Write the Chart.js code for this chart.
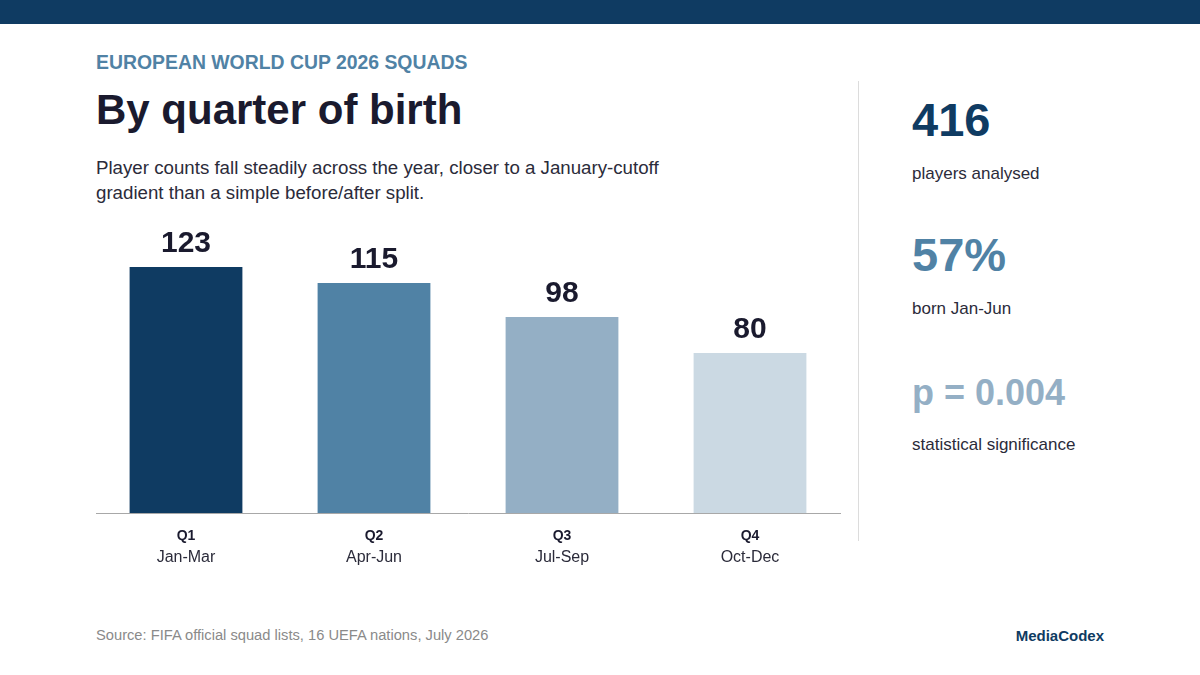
<!DOCTYPE html>
<html>
<head>
<meta charset="utf-8">
<script src="https://cdn.jsdelivr.net/npm/chart.js@4/dist/chart.umd.min.js"></script>
<style>
  html, body { margin: 0; padding: 0; background: #fff; }
  body { width: 1200px; height: 675px; position: relative; overflow: hidden; font-family: 'Liberation Sans', Arial, sans-serif; }
  .topbar { position: absolute; left: 0; top: 0; width: 1200px; height: 24px; background: #0f3b62; }
  .abs { position: absolute; white-space: nowrap; }
  .kicker { left: 96px; top: 51px; font-size: 19.4px; font-weight: bold; color: #5082a5; }
  .title { left: 96px; top: 86px; font-size: 42px; font-weight: bold; color: #1a1a2e; }
  .desc { left: 96px; top: 155px; font-size: 18.7px; line-height: 25px; color: #2b2b3a; white-space: normal; width: 600px; }
  .divider { left: 858px; top: 81px; width: 1px; height: 460px; background: #dcdcdc; }
  .stat { left: 912px; font-weight: bold; }
  .statlbl { left: 912px; font-size: 17px; color: #2b2b3a; }
  .source { left: 96px; top: 627px; font-size: 14.7px; color: #8a8a8a; }
  .brand { right: 96px; top: 627px; font-size: 15px; font-weight: bold; color: #0f3b62; }
  #wrap { position: absolute; left: 92px; top: 213px; width: 752px; height: 378px; }
</style>
</head>
<body>
<div class="topbar"></div>
<div class="abs kicker">EUROPEAN WORLD CUP 2026 SQUADS</div>
<div class="abs title">By quarter of birth</div>
<div class="abs desc">Player counts fall steadily across the year, closer to a January-cutoff gradient than a simple before/after split.</div>

<div id="wrap"><canvas id="chart"></canvas></div>

<div class="abs divider"></div>
<div class="abs stat" style="top:92px;font-size:47px;color:#0f3b62;">416</div>
<div class="abs statlbl" style="top:164px;">players analysed</div>
<div class="abs stat" style="top:227px;font-size:47px;color:#5082a5;">57%</div>
<div class="abs statlbl" style="top:299px;">born Jan-Jun</div>
<div class="abs stat" style="top:372px;font-size:36px;color:#94afc5;">p = 0.004</div>
<div class="abs statlbl" style="top:435px;">statistical significance</div>

<div class="abs source">Source: FIFA official squad lists, 16 UEFA nations, July 2026</div>
<div class="abs brand">MediaCodex</div>

<script>
const quarters = ['Q1', 'Q2', 'Q3', 'Q4'];
const months = ['Jan-Mar', 'Apr-Jun', 'Jul-Sep', 'Oct-Dec'];
const players = [123, 115, 98, 80];
const barColors = ['#0f3b62', '#5082a5', '#94afc5', '#cbd9e3'];

// value on top of each bar + two-line category label under the axis
const barLabels = {
  id: 'barLabels',
  afterDatasetsDraw(chart) {
    const { ctx, scales: { x }, chartArea } = chart;
    const meta = chart.getDatasetMeta(0);
    ctx.save();
    ctx.textAlign = 'center';
    ctx.textBaseline = 'alphabetic';
    meta.data.forEach((bar, i) => {
      ctx.fillStyle = '#1a1a2e';
      ctx.font = 'bold 30px "Liberation Sans", Arial, sans-serif';
      ctx.fillText(String(players[i]), bar.x, bar.y - 15);

      const cx = x.getPixelForValue(i);
      ctx.font = 'bold 14px "Liberation Sans", Arial, sans-serif';
      ctx.fillStyle = '#1a1a2e';
      ctx.fillText(quarters[i], cx, chartArea.bottom + 27);
      ctx.font = '16px "Liberation Sans", Arial, sans-serif';
      ctx.fillStyle = '#2b2b3a';
      ctx.fillText(months[i], cx, chartArea.bottom + 49);
    });
    // baseline
    ctx.strokeStyle = '#a8a8a8';
    ctx.lineWidth = 1;
    ctx.beginPath();
    ctx.moveTo(4, Math.round(chartArea.bottom) + 0.5);
    ctx.lineTo(749, Math.round(chartArea.bottom) + 0.5);
    ctx.stroke();
    ctx.restore();
  },
};

new Chart(document.getElementById('chart'), {
  type: 'bar',
  data: {
    labels: quarters,
    datasets: [{
      data: players,
      backgroundColor: barColors,
      barPercentage: 0.6,
      categoryPercentage: 1,
    }],
  },
  options: {
    responsive: true,
    maintainAspectRatio: false,
    animation: false,
    layout: { padding: { top: 20, bottom: 70, left: 0, right: 0 } },
    plugins: {
      legend: { display: false },
      tooltip: { enabled: false },
    },
    scales: {
      x: {
        grid: { display: false },
        border: { display: false },
        ticks: { display: false },
      },
      y: {
        min: 0,
        max: 140,
        display: false,
      },
    },
  },
  plugins: [barLabels],
});
</script>
</body>
</html>
